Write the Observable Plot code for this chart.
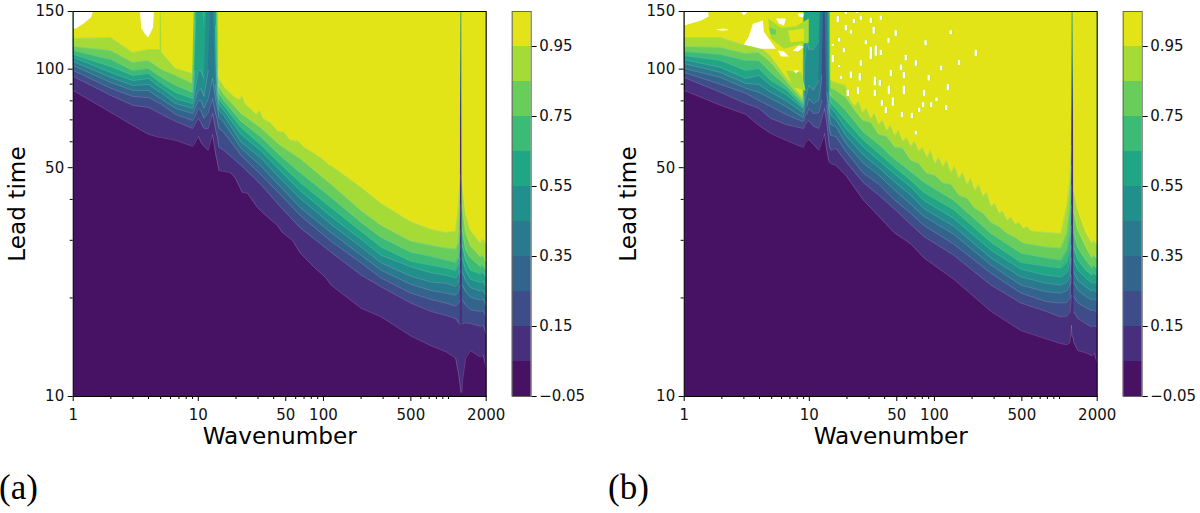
<!DOCTYPE html>
<html><head><meta charset="utf-8">
<script src="https://cdn.jsdelivr.net/npm/d3@7"></script>
<script src="https://cdn.jsdelivr.net/npm/@observablehq/plot@0.6"></script>
<style>
html,body{margin:0;padding:0;background:#fff;width:1200px;height:513px;overflow:hidden}
#page{position:relative;width:1200px;height:513px}
.tag{position:absolute;top:467px;font:35px/42px "Liberation Serif",serif;color:#000}
</style></head><body><div id="page"></div>
<script>
const levels=[0.05,0.15,0.25,0.35,0.45,0.55,0.65,0.75,0.85,0.95];
const colorbarTicks=[-0.05,0.15,0.35,0.55,0.75,0.95];
const xMajor=[1,10,50,100,500,2000];
const xMinor=[2,3,4,5,6,7,8,9,20,30,40,60,70,80,90,200,300,400,600,700,800,900,1000];
const yMajor=[10,50,100,150];
const yMinor=[20,30,40,60,70,80,90];
const T=200; // contour passes above the top of the frame

const wavesA=[1,2,3,4,4.95,5,5.1,6.6,9,9.4,10,10.5,11.1,12,13,13.7,13.9,14.2,14.4,14.6,16,22,32,45,65,115,200,290,500,720,950,1140,1200,1240,1255,1280,1290,1370,1500,1800,1890,2000];
const leadsA=[
[86.1,95,99.1,102.6,105.5,108.6,110.9,114,117.3,124],
[73.7,83.1,87.4,91,94.3,97.7,101.9,107,114,124.9],
[67.3,77.5,82.5,86.1,89.2,92.3,95.7,99.1,104.8,112.4],
[63.2,76.4,81.9,86.1,89.8,93.7,97,100.5,106.3,114.8],
[61.8,73.2,78.5,81.3,84.9,88,91,95,100.5,114.8],
[61.8,73.2,78.5,81.3,84.9,88,91,95,100.5,T],
[61.8,72.7,78,80.8,84.4,87.4,90.4,94.3,99.8,112.4],
[60.6,69.2,72.7,75.9,78.5,81.3,84.9,89.2,95.7,100.5],
[58.1,65.9,69.7,73.2,75.9,78.5,81.3,84.9,90.4,97],
[59.4,67.8,71.7,75.9,80.2,86.1,99.1,140.8,T,T],
[62.3,70.7,75.9,80.2,86.1,99.1,T,T,T,T],
[59.8,68.7,74.8,80.2,87.4,99.1,T,T,T,T],
[58.1,65.9,70.7,75.9,82.5,93.7,135.9,T,T,T],
[56.5,65.9,73.7,81.3,99.1,T,T,T,T,T],
[63.2,73.2,81.3,93.7,T,T,T,T,T,T],
[55.7,65.9,73.7,81.3,89.2,135.9,T,T,T,T],
[54,64,72,79,85,100,T,T,T,T],
[52,62,70,76,80,84,90,100,T,T],
[50.5,60,68,74,78,81,85,92,110,T],
[49,57.7,65.9,71.2,74.8,78,80.8,84.4,88.6,93.7],
[48.3,56.5,64.1,68.7,72.2,74.8,77.5,80.2,83.7,88.6],
[43.6,50.8,54.5,57.3,59.8,63.2,66.3,69.2,73.2,81.3],
[37.8,44.2,47.4,50.4,53.3,56.1,58.5,61.8,65.9,73.2],
[32,38.1,41.5,43.9,46.4,49,51.5,54.5,58.5,64.5],
[27.4,32.8,35.8,37.8,40.3,42.6,45.1,48.3,53.3,59.8],
[21.9,27.6,29.8,31.7,33.6,35.5,37.8,40.6,44.5,50.8],
[18.6,23.5,25.6,27,28.6,30.2,32,34,37,43.6],
[17.5,21.6,23,24.3,25.6,27,28.6,30.6,33.3,38.9],
[15.3,19.3,20.7,22,23.3,24.9,25.9,27.6,29.8,34.2],
[14.3,18.2,19.8,21.1,22.4,23.9,25.2,26.8,29,32.4],
[13.7,17.7,19.3,20.7,22.2,23.5,24.7,26.1,28.4,31.7],
[13.1,17.3,18.9,20.4,21.7,23,24.3,25.7,28.2,32],
[11.8,16.8,19.3,20.9,22.2,23.7,25.1,26.5,29.4,38.4],
[10.8,16.6,19.7,21.9,24.3,26.5,29,32.2,38.4,47.4],
[10.3,T,T,T,T,T,T,T,T,T],
[10.3,T,T,T,T,T,T,T,T,T],
[11.1,16.7,19.7,21.9,24,26.5,29,32.2,38.4,45.7],
[13.1,16.8,19,20.9,22.6,24.3,26.1,28,31.7,36.1],
[13.8,16.7,18.4,20.1,21.5,22.8,24.3,26.5,28.8,32.2],
[13.2,16.4,18.2,19.7,21,22.3,23.7,24.9,26.7,29.4],
[13.4,16.5,18.3,19.9,21.1,22.5,24,25.2,27,30.4],
[12.2,15.5,17.6,18.9,20.3,21.6,23.1,24.3,25.7,29.2]
];
// rough stretches of the outer contours of panel (a)
const edgeA05W=[14.7,18.1,19.8,22.5,24.7,29.7,34.4,43,46.9,56.4,65.4,83.5,104];
const edgeA05L=[49,48.3,46.4,42,41.8,37.8,35.8,33.3,31.7,30,27.4,24.9,23.1];
const edgeA95W=[14.7,16.2,18.1,20.2,21.7,22.5,23.9,26.1,29.2,31.4,33,37.6,43.6,48.7,54.5,63,70.4,81.5,94.4,113];
const edgeA95L=[93.7,88,84.4,81.3,80.8,83.1,78,75.9,72.7,74.8,70.7,68.7,64.5,64.1,60.6,60.2,57.7,55.7,53.8,50.8];

const wavesB=[1,1.96,3.11,3.95,4.93,6.5,8.9,9.05,9.12,9.2,9.6,9.9,10.8,11.9,12.6,13.2,13.8,14.3,14.5,14.7,14.9,16.3,19.6,27.2,36,47.5,65,82.5,143,283,491,780,1026,1146,1211,1245,1258,1282,1303,1403,1626,1815,1884,2000];
const leadsB=[
[86.1,94.3,97.7,100.5,104,106.9,110.1,113.2,117.3,124.9],
[77.5,84.9,89.8,94.3,97.7,101.2,106.3,110.9,116.5,124.9],
[72.7,78.5,84.4,87.4,90.4,93.7,99.1,106.3,111.6,118.1],
[67.3,75.9,80.2,84.9,89.8,95.7,100.5,106.3,112.4,118.1],
[63.6,70.7,76.9,81.3,84.9,89.2,92.3,97.7,104.8,109.5],
[60.6,67.8,72.7,76.9,80.2,83.7,86.7,89.2,92.3,95],
[57.7,65.9,69.2,71.2,73.7,75.9,76.9,78.5,80.2,81.9],
[58,66,70,72.5,75,78,82,90,T,T],
[59,67,71,74,78,90,T,T,T,T],
[59.4,67.8,71.7,75.9,80.2,106.3,T,T,T,T],
[60.2,68.7,73.2,77.5,84.9,122,T,T,T,T],
[61,69.7,75.9,81.3,89.2,115,T,T,T,T],
[58.9,66.9,73.2,78.5,86.1,115,T,T,T,T],
[56.5,65.9,73.7,80.2,92.3,122,T,T,T,T],
[59.8,70.7,80.2,95.7,T,T,T,T,T,T],
[63.6,75.9,T,T,T,T,T,T,T,T],
[56.5,68.7,77.5,84.9,T,T,T,T,T,T],
[52.6,60.6,68.7,74.8,80.2,T,T,T,T,T],
[52,58,65,70,74,78,85,T,T,T],
[51.7,57,64,69,73,77,80,85,T,T],
[51.5,56.5,62.7,67.8,72.2,75.9,78.5,82.5,87.4,92.3],
[50.8,57.3,62.3,66.8,70.2,73.2,75.9,80.2,86.1,91],
[47.4,52.2,56.1,59.4,62.7,65.9,69.7,74.8,81.9,89.2],
[39.7,44.9,48,51.5,54.5,57.7,60.6,64.1,69.7,74.8],
[35.5,41.2,44.5,47.4,50,52.6,55.3,58.9,65,70.7],
[31.7,37.5,40,42.9,45.4,48,50.4,53.3,57.7,64.1],
[29.2,33.5,36.2,38.6,41.2,43.6,45.7,48.6,52.6,58.9],
[26.5,30.8,33.3,35.5,37.5,39.7,42,45.1,49,55.7],
[22.8,27,29.2,31.3,33.1,35,37.2,39.7,43.6,50.4],
[18.2,21.9,23.8,25.2,26.5,28,29.6,31.5,34,38.4],
[15.9,19.3,20.7,21.9,23.2,24.5,25.7,27.4,29.8,33.3],
[15,18.2,19.5,20.9,22.2,23.5,25,26.5,28.6,31.7],
[14.5,17.5,19.3,20.7,21.9,23.2,24.7,26.1,28.4,31.5],
[14.4,17.6,19.4,21.1,22.4,23.9,25.7,28,31.7,38.4],
[14.6,18.1,20,21.9,23.6,25.7,28,31.7,38.4,45.7],
[16.5,20.4,23.5,26.5,29,33.3,38.4,44.2,50.8,58.5],
[15.2,T,T,T,T,T,T,T,T,T],
[15.2,T,T,T,T,T,T,T,T,T],
[14.6,18.1,20.2,22.3,23.9,26.1,28.4,31.7,36.5,42.6],
[13.8,17.3,19.3,21.1,22.6,24.3,26.1,28.4,32.2,37],
[13.6,16.7,18.7,20.2,21.6,23,24.3,26.1,28.6,31.7],
[13.3,16.3,18.3,19.7,21,22.2,23.5,24.7,26.5,29.4],
[13.6,16.5,18.4,19.9,21.2,22.4,23.9,25.2,27,30],
[12.7,16.2,18,19.5,20.7,22,23.3,24.5,26.3,29]
];
// jagged stretches of the outer contours of panel (b)
const edgeB95W=[21.5,23.2,24.9,26.8,28.9,31.1,33.5,36,38.8,41.8,45,48.4,52.1,56.1,60.4,65,70,75.4,81.2,87.4,94.1,101.3,109,117.4,126.4,136,146.5,157.7,170,183,197,212,228,246,265,285,307,330,355,383,412,444,478,515,554,597];
const edgeB95L=[80.2,77,79.6,73.7,75.9,70.7,73.2,67.8,69.7,65,67.3,62.7,65,60.2,61.8,58.1,60.2,56.1,57.7,53.8,56.5,51.5,53.8,50.4,52.6,48.3,50.4,46.4,48.3,44.5,46.4,42.6,44.5,40.9,42,38.1,38.9,36.3,36.8,34.5,35.3,33.6,34,32.6,33,32];
const edgeB85W=[23.2,26.8,31.1,36,41.8,48.4,56.1,65,75.4,87.4,101.3,117.4,136,157.7,183,212,246,285,330,383,444,515];
const edgeB85L=[74.8,69.7,68.7,63.2,62.3,57.7,57.3,52.6,51.5,48,47.4,44.9,44.5,41.2,40.3,37.5,36.3,34,33,31.5,30.6,29.4];

// blobs where the field leaves the contour range: [wavenumber, lead] outlines
const holesA=[
[[1,150],[1,133],[1.05,133],[1.22,138],[1.39,144],[1.44,150],[1.44,170],[1,170]],
[[3.42,170],[3.42,150],[3.49,134],[3.7,129],[3.96,125],[4.15,129],[4.34,134],[4.42,150],[4.42,170]]
];
const holesB=[
[[1,170],[1,135.9],[1.36,140.8],[1.57,144.8],[1.55,150],[1.55,170]],
[[3.54,137.7],[4.26,140.8],[4.33,130],[5.41,115.5],[4.1,115.5],[3,119],[3.29,126]],
[[5.41,142.8],[6.5,142.8],[6.27,135.9],[5.71,137.8]],
[[5.61,114],[6.27,113.2],[6.87,109.3],[5.93,109.3]],
[[7.39,114],[8.26,118],[9.06,117],[8.1,113.2]],
[[8.1,147.8],[9.06,147.8],[8.9,143.8],[8.26,144.8]],
[[7.53,99],[8.26,99],[7.8,97]],
[[1.79,132],[2.04,133],[2.28,132],[2.04,131]],
[[2.84,170],[3.23,170],[3.23,150],[3,145.8],[2.84,150]]
];
const lightPatchesB=[
[[4.67,142.8],[5.93,134],[7.8,135],[9.9,142.8],[9.9,120.6],[7.8,118],[6.27,115.5],[4.93,124]],
[[6.5,99],[8.6,97.7],[9.36,86],[7.39,88]]
];
const greenPatchesB=[
[[4.75,134],[5.41,132],[5.41,127.6],[4.93,127.6]]
];
const yellowPatchesB=[
[[6.75,131],[9.06,133],[9.06,122],[7.1,120.6]]
];
// small flecks right of the resonance column: wavenumber, lower and upper lead
const fleckW=[16.9,22.7,21.5,32.7,15.4,18.9,31,34,15.4,17.3,17.9,20.3,24.5,25.3,33.4,36.6,33.4,43.2,57,38,46.5,40.9,55,66,57,90,82.5,128,54,43,31,81,94,71,19.6,24,157,214,135,19.6,25.8,37.3,49,59,71,85,37.3,44.8,25.8,21.5,17.3,28.3,113,104,75.4,124];
const fleckLo=[138.8,137.8,128,128,117.5,112.5,107,109.5,104.8,101.2,93,82.5,83.7,92,89,88.6,82.5,83.7,83.7,77,77,73.2,71.2,70.7,93.7,92,82.5,86,99,120,137.8,76.4,76.4,63,147,148,102.6,109.3,127.6,131,141,141,126,106,102,118,110,95,102,93.7,121,119,99,79.6,73.7,74.8];
const fleckHi=[144.8,141.8,131,134,119,115.5,116.5,117.5,110,102.6,95,86,87.8,97,94.5,92.3,86,88.6,88.6,80,81.7,76.4,73.7,73.2,97.7,95.7,86,89.8,103,124,143,78.9,78.9,64.5,150,150,106.3,114,131,136,145,145,131,110,106,122,114,99,106,98,124,122,102,81.7,75.9,77.5];

const colors=d3.range(11).map(i=>d3.interpolateViridis(0.0455+i*0.0909));
const font="'DejaVu Sans',sans-serif";

function contourRows(waves,leads,i,edge){
  let rows=waves.map((w,k)=>({w,lead:leads[k][i]}));
  if(edge){
    const a=edge.w[0],b=edge.w[edge.w.length-1];
    rows=rows.filter(d=>d.w<a||d.w>b).concat(edge.w.map((w,k)=>({w,lead:edge.lead[k]})));
    rows.sort((p,q)=>p.w-q.w);
  }
  return rows;
}
function panel(waves,leads,edges,holes,light,green,yellow,flecks){
  const marks=[Plot.frame({fill:colors[0],stroke:"none"})];
  const series=levels.map((lv,i)=>contourRows(waves,leads,i,edges[i]));
  series.forEach((rows,i)=>marks.push(Plot.areaY(rows,{x:"w",y1:"lead",y2:()=>T,fill:colors[i+1],clip:"frame"})));
  series.forEach(rows=>marks.push(Plot.line(rows,{x:"w",y:d=>d.lead>=T?NaN:d.lead,stroke:"#e0e0e0",strokeOpacity:0.3,strokeWidth:0.7,clip:"frame"})));
  const blob=(list,fill)=>list.forEach(pts=>marks.push(Plot.line(pts,{x:d=>d[0],y:d=>d[1],fill,stroke:"none",curve:"linear-closed",clip:"frame"})));
  blob(light,colors[9]);
  blob(green,colors[8]);
  blob(yellow,colors[10]);
  if(flecks){
    const rows=flecks.w.map((w,i)=>({w,lo:flecks.lo[i],hi:flecks.hi[i]}));
    marks.push(Plot.ruleX(rows,{x:"w",y1:"lo",y2:"hi",stroke:colors[9],strokeWidth:3.6,strokeOpacity:0.7,clip:"frame"}));
    marks.push(Plot.ruleX(rows,{x:"w",y1:"lo",y2:"hi",stroke:"#fff",strokeWidth:2.4,clip:"frame"}));
  }
  blob(holes,"#fff");
  marks.push(Plot.frame({stroke:"#000",strokeWidth:1}));
  marks.push(Plot.axisX(xMajor,{tickSize:5,fill:"none",label:null}));
  marks.push(Plot.axisX(xMinor,{tickSize:3,fill:"none",label:null}));
  marks.push(Plot.axisY(yMajor,{tickSize:5,fill:"none",label:null}));
  marks.push(Plot.axisY(yMinor,{tickSize:3,fill:"none",label:null}));
  marks.push(Plot.text(xMajor,{x:d=>d,text:d=>String(d),frameAnchor:"bottom",dy:23,fontSize:15,fill:"#111"}));
  marks.push(Plot.text(yMajor,{y:d=>d,text:d=>String(d),frameAnchor:"left",dx:-9,textAnchor:"end",fontSize:15,fill:"#111"}));
  marks.push(Plot.text(["Wavenumber"],{frameAnchor:"bottom",dy:47,fontSize:23.2,textAnchor:"middle",fill:"#000"}));
  marks.push(Plot.text(["Lead time"],{frameAnchor:"left",dx:-56,rotate:-90,textAnchor:"middle",fontSize:23.2,fill:"#000"}));
  return Plot.plot({width:500,height:450,marginLeft:72.7,marginRight:14.3,marginTop:11,marginBottom:54,
    style:{fontFamily:font,background:"transparent",overflow:"visible"},
    x:{type:"log",domain:[1,2000]},y:{type:"log",domain:[10,150]},marks});
}
function colorbar(){
  const lows=[-0.05,...levels];
  const rows=lows.map((v,i)=>({lo:v,hi:Math.round((v+0.1)*100)/100,c:colors[i]}));
  return Plot.plot({width:100,height:450,marginLeft:11.7,marginRight:69.3,marginTop:11,marginBottom:54,
    style:{fontFamily:font,background:"transparent"},
    x:{domain:[0,1],axis:null},y:{domain:[-0.05,1.05],axis:null},
    marks:[
      Plot.rect(rows,{x1:()=>0,x2:()=>1,y1:"lo",y2:"hi",fill:d=>d.c}),
      Plot.frame({stroke:"#666",strokeWidth:1}),
      Plot.axisY(colorbarTicks,{anchor:"right",tickSize:5,tickPadding:3,fontSize:15,fill:"#111",tickFormat:d=>d3.format(".2f")(d),label:null})
    ]});
}
const page=document.getElementById("page");
function place(node,left){node.style.position="absolute";node.style.left=left+"px";node.style.top="0";page.appendChild(node);}
const edgesA={0:{w:edgeA05W,lead:edgeA05L},9:{w:edgeA95W,lead:edgeA95L}};
const edgesB={8:{w:edgeB85W,lead:edgeB85L},9:{w:edgeB95W,lead:edgeB95L}};
place(panel(wavesA,leadsA,edgesA,holesA,[],[],[],null),0);
place(colorbar(),500);
place(panel(wavesB,leadsB,edgesB,holesB,lightPatchesB,greenPatchesB,yellowPatchesB,{w:fleckW,lo:fleckLo,hi:fleckHi}),610.6);
place(colorbar(),1110.6);
[["(a)",-1],["(b)",608]].forEach(([t,x])=>{const d=document.createElement("div");d.className="tag";d.style.left=x+"px";d.textContent=t;page.appendChild(d);});
</script></body></html>
